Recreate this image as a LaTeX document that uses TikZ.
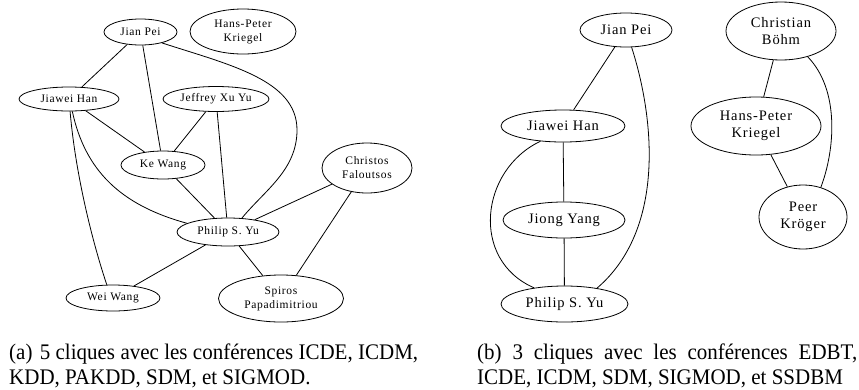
\documentclass[tikz,border=0pt]{standalone}
\usepackage{fontspec}
\usepackage{graphicx}
\setmainfont{Liberation Serif}
\newfontfamily\nfont[LetterSpace=6]{Liberation Serif}
\usetikzlibrary{shapes.geometric}
\newcommand{\captionbox}[2]{\scalebox{1}[1.06]{\parbox[t]{#1}{\fontsize{21}{23.6}\selectfont #2}}}
\begin{document}
\begin{tikzpicture}[x=1pt,y=-1pt,
  ln/.style={ellipse, draw, line width=0.8pt, inner sep=0pt, font=\nfont\fontsize{11.5}{14}\selectfont, align=center},
  rn/.style={ellipse, draw, line width=0.8pt, inner sep=0pt, font=\nfont\fontsize{14.5}{17}\selectfont, align=center},
  edgeline/.style={line width=0.8pt},
  captext/.style={anchor=north west, inner sep=0pt}]
\useasboundingbox (0,0) rectangle (859,389);
% ---------- (a) ----------
\node[ln, minimum width=73pt, minimum height=26pt] (ljp) at (140.5,32) {Jian Pei};
\node[ln, minimum width=106pt, minimum height=45pt] (lhk) at (243,31.5) {Hans-Peter\\Kriegel};
\node[ln, minimum width=100pt, minimum height=24pt] (ljh) at (69,99) {Jiawei Han};
\node[ln, minimum width=106pt, minimum height=25pt] (ljy) at (216,99) {Jeffrey Xu Yu};
\node[ln, minimum width=84pt, minimum height=28pt] (lkw) at (163,165) {Ke Wang};
\node[ln, minimum width=90pt, minimum height=50pt] (lcf) at (367,168) {Christos\\Faloutsos};
\node[ln, minimum width=102pt, minimum height=28pt] (lpy) at (228,232) {Philip S. Yu};
\node[ln, minimum width=94pt, minimum height=26pt] (lww) at (113,298) {Wei Wang};
\node[ln, minimum width=125pt, minimum height=47pt] (lsp) at (281,298.5) {Spiros\\Papadimitriou};
\draw[edgeline] (ljp) -- (ljh);
\draw[edgeline] (ljp) -- (lkw);
\draw[edgeline] (ljp.-27) .. controls (230,65) and (297,80) .. (297,130) .. controls (297,170) and (265,190) .. (lpy.45);
\draw[edgeline] (ljh) -- (lkw);
\draw[edgeline] (ljh.-75) .. controls (85,170) and (120,205) .. (lpy.168);
\draw[edgeline] (ljh.-85) .. controls (76,180) and (95,250) .. (lww.115);
\draw[edgeline] (ljy) -- (lkw);
\draw[edgeline] (ljy) -- (lpy);
\draw[edgeline] (lkw) -- (lpy);
\draw[edgeline] (lcf) -- (lpy);
\draw[edgeline] (lcf) -- (lsp);
\draw[edgeline] (lpy) -- (lww);
\draw[edgeline] (lpy) -- (lsp);
% ---------- (b) ----------
\node[rn, minimum width=92pt, minimum height=34pt] (rjp) at (626,30) {Jian Pei};
\node[rn, minimum width=110pt, minimum height=58pt] (rcb) at (781,31) {Christian\\Böhm};
\node[rn, minimum width=124pt, minimum height=32pt] (rjh) at (563,126) {Jiawei Han};
\node[rn, minimum width=130pt, minimum height=58pt] (rhk) at (756,126) {Hans-Peter\\Kriegel};
\node[rn, minimum width=122pt, minimum height=36pt] (rjy) at (564,220) {Jiong Yang};
\node[rn, minimum width=88pt, minimum height=64pt] (rpk) at (803,217) {Peer\\Kröger};
\node[rn, minimum width=127pt, minimum height=36pt] (rpy) at (564.5,304) {Philip S. Yu};
\draw[edgeline] (rjp) -- (rjh);
\draw[edgeline] (rjp.-72) .. controls (655,120) and (665,230) .. (rpy.26);
\draw[edgeline] (rjh) -- (rjy);
\draw[edgeline] (rjh.-146) .. controls (480,170) and (470,260) .. (rpy.152);
\draw[edgeline] (rjy) -- (rpy);
\draw[edgeline] (rcb) -- (rhk);
\draw[edgeline] (rcb.-44) .. controls (840,90) and (835,150) .. (rpk.59);
\draw[edgeline] (rhk) -- (rpk);
% ---------- captions ----------
\node[captext] (capa) at (9,344) {\captionbox{409pt}{(a)\hspace{0.35em}5 cliques avec les conférences ICDE, ICDM,\linebreak KDD, PAKDD, SDM, et SIGMOD.}};
\node[captext] (capb) at (477,344) {\captionbox{380pt}{(b) 3 cliques avec les conférences EDBT,\linebreak ICDE, ICDM, SDM, SIGMOD, et SSDBM}};
\end{tikzpicture}
\end{document}
